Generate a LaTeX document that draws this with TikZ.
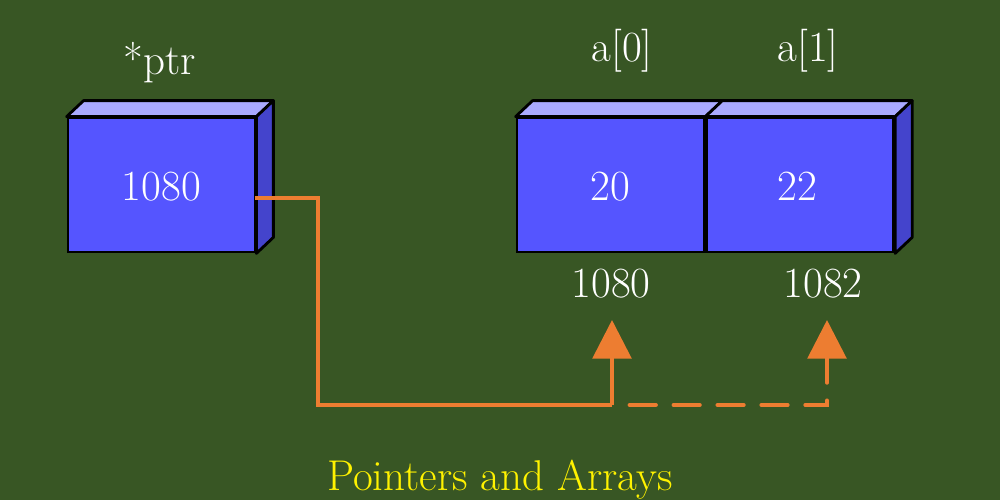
\documentclass[tikz,border=0pt]{standalone}
\usepackage{tikz}
\usetikzlibrary{arrows.meta, positioning, calc}

\definecolor{board}{HTML}{385624}
\definecolor{facefront}{HTML}{5555FF}
\definecolor{facetop}{HTML}{AAAAFF}
\definecolor{faceside}{HTML}{4444CC}
\definecolor{wire}{HTML}{ED7D31}

\begin{document}
\begin{tikzpicture}[
  x=0.02cm, y=-0.02cm,
  every node/.style = {font=\fontsize{24.5}{29}\selectfont},
  cell/.style  = {draw, line width=1.6pt, fill=facefront, text=white,
                  minimum width=3.74cm, minimum height=2.68cm, inner sep=0pt},
  face/.style  = {draw, line width=1.6pt, line join=round},
  label/.style = {text=white, anchor=base, inner sep=0pt},
  pointer/.style = {wire, line width=2.2pt, -{Triangle[width=22pt, length=22pt]}}
]

  % background
  \fill[board] (0,0) rectangle (1000,500);
  \clip (0,0) rectangle (1000,500);

  % pointer variable
  \node[cell] (ptr) at (161.5,185) {};
  \node[label] (ptrval) at (161.5,200) {1080};
  \node[label] (ptrname) at (160,75) {*ptr};

  % array cells
  \node[cell] (cell0) at (610.5,185) {};
  \node[cell, right=0pt of cell0] (cell1) {};
  \node[label] (val0) at (610.5,200) {20};
  \node[label] (val1) at (797,200) {22};
  \node[label] (name0) at (622,62) {a[0]};
  \node[label] (name1) at (808,62) {a[1]};
  \node[label] (addr0) at (611,297) {1080};
  \node[label] (addr1) at (823,297) {1082};

  % 3d faces
  \foreach \c in {ptr, cell0, cell1} {
    \draw[face, fill=facetop] (\c.north west) -- ++(17,-16)
      -- ($(\c.north east)+(17,-16)$) -- (\c.north east) -- cycle;
  }
  \foreach \c in {ptr, cell1} {
    \draw[face, fill=faceside] (\c.north east) -- ++(17,-16)
      -- ($(\c.south east)+(17,-16)$) -- (\c.south east) -- cycle;
  }

  % connectors
  \coordinate (turn) at (318,405);
  \coordinate (split) at (612,405);
  \coordinate (skip) at (827,405);
  \coordinate (tip0) at (612,320);
  \coordinate (tip1) at (827,320);
  \draw[pointer, -] ($(ptr.east)+(-1,13)$) -| (turn) -- (split);
  \draw[pointer] (split) -- (tip0);
  \draw[pointer, line cap=round, dash pattern=on 15pt off 10pt, dash phase=15pt] (split) -- (skip) -- (tip1);

  % caption
  \node[label, text=yellow] (caption) at (500,490) {Pointers and Arrays};

\end{tikzpicture}
\end{document}
